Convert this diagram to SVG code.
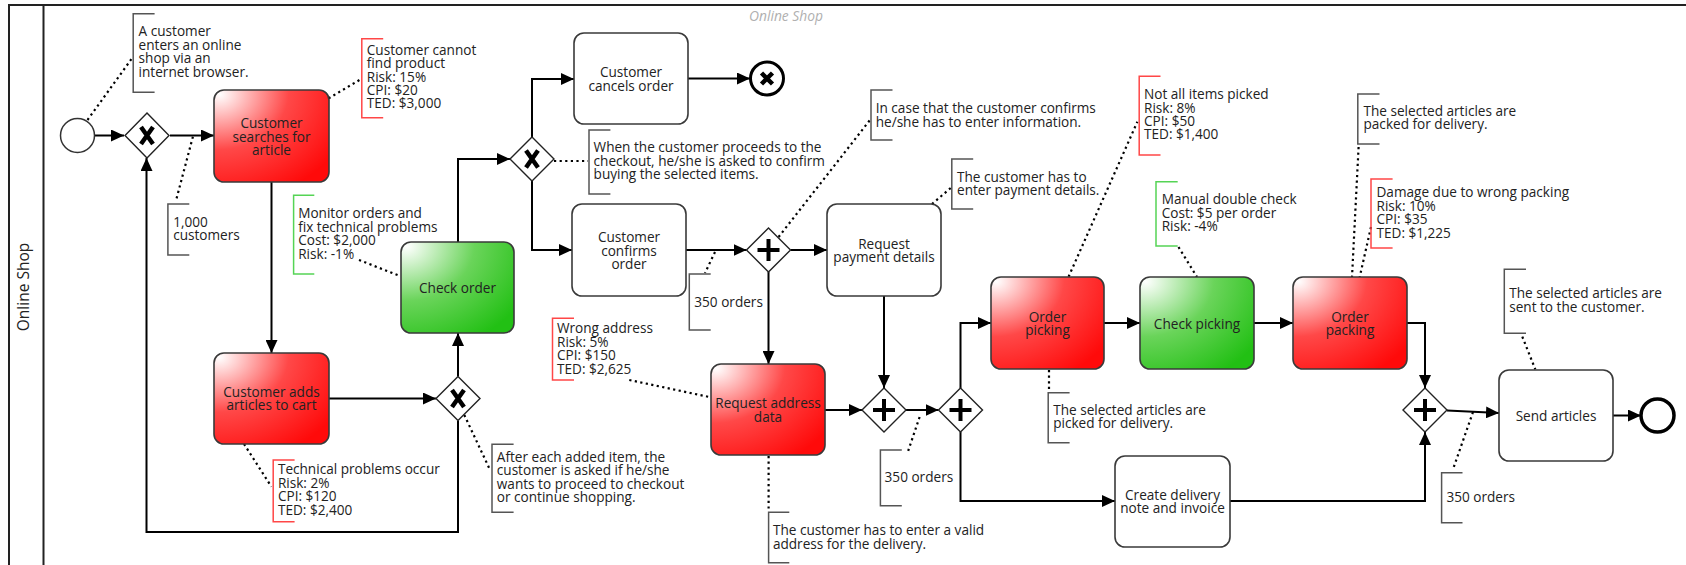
<svg xmlns="http://www.w3.org/2000/svg" width="1686" height="565" viewBox="0 0 1686 565">
<defs>
<style>
.t{font-family:'Open Sans','DejaVu Sans',sans-serif;font-size:13.6px;fill:#222}
.c{text-anchor:middle}
.flow{fill:none;stroke:#000;stroke-width:2}
.as{fill:none;stroke:#000;stroke-width:2.2;stroke-dasharray:2.2 3.4}
.br{fill:none;stroke:#555;stroke-width:1.5}
.red{stroke:#ff4747}
.grn{stroke:#55d455}
.task{stroke:#3a3a3a;stroke-width:1.6}
.gw{fill:#fff;stroke:#222;stroke-width:1.4}
.mk{stroke:#000;stroke-width:4.5;fill:none}
</style>
<radialGradient id="gR" cx="0" cy="0" r="1.25" fx="0.05" fy="0.05">
<stop offset="0" stop-color="#ffffff"/>
<stop offset="0.5" stop-color="#ff4848"/>
<stop offset="1" stop-color="#ff0a0a"/>
</radialGradient>
<radialGradient id="gG" cx="0" cy="0" r="1.25" fx="0.05" fy="0.05">
<stop offset="0" stop-color="#ffffff"/>
<stop offset="0.5" stop-color="#6ad45a"/>
<stop offset="1" stop-color="#22c014"/>
</radialGradient>
<marker id="ar" markerUnits="userSpaceOnUse" markerWidth="14" markerHeight="12" refX="13" refY="6" orient="auto">
<path d="M0,0 L13,6 L0,12 Z" fill="#000"/>
</marker>
</defs>
<rect width="1686" height="565" fill="#fff"/>

<g id="pool">
<path d="M1686,5 H9 V565 M43.5,5 V565" fill="none" stroke="#222" stroke-width="2"/>
<text class="t" transform="translate(29,287) rotate(-90)" text-anchor="middle" style="font-size:15.5px">Online Shop</text>
<text class="t c" x="786" y="21" style="font-style:italic;fill:#b0b0b0;font-size:13.8px">Online Shop</text>
</g>

<g id="connectors">
<path class="flow" marker-end="url(#ar)" d="M95,135.5 H124"/>
<path class="flow" marker-end="url(#ar)" d="M170,135.5 H214"/>
<path class="flow" marker-end="url(#ar)" d="M271.5,182 V353"/>
<path class="flow" marker-end="url(#ar)" d="M329,398.5 H436"/>
<path class="flow" marker-end="url(#ar)" d="M458,376.5 V333"/>
<path class="flow" marker-end="url(#ar)" d="M458,420.5 V532 H146.5 V158"/>
<path class="flow" marker-end="url(#ar)" d="M458,242 V159 H510"/>
<path class="flow" marker-end="url(#ar)" d="M532,137 V79 H574"/>
<path class="flow" marker-end="url(#ar)" d="M532,181 V250 H572"/>
<path class="flow" marker-end="url(#ar)" d="M688,78.5 H750"/>
<path class="flow" marker-end="url(#ar)" d="M686,250 H746.5"/>
<path class="flow" marker-end="url(#ar)" d="M790.5,250 H827"/>
<path class="flow" marker-end="url(#ar)" d="M768.5,272 V364"/>
<path class="flow" marker-end="url(#ar)" d="M884,296 V388"/>
<path class="flow" marker-end="url(#ar)" d="M825,410 H862"/>
<path class="flow" marker-end="url(#ar)" d="M906,410 H938.5"/>
<path class="flow" marker-end="url(#ar)" d="M960.5,388 V323 H991"/>
<path class="flow" marker-end="url(#ar)" d="M960.5,432 V501 H1115"/>
<path class="flow" marker-end="url(#ar)" d="M1104,323 H1140"/>
<path class="flow" marker-end="url(#ar)" d="M1254,323 H1293"/>
<path class="flow" marker-end="url(#ar)" d="M1407,323 H1425 V388"/>
<path class="flow" marker-end="url(#ar)" d="M1230,501 H1425 V432"/>
<path class="flow" marker-end="url(#ar)" d="M1447,410.5 L1499,413"/>
<path class="flow" marker-end="url(#ar)" d="M1613,415.5 H1641"/>

<path class="as" d="M87.5,120 L132,58.3"/>
<path class="as" d="M328.6,98.3 L360.7,79.3"/>
<path class="as" d="M192.9,136.7 L175.7,201.7"/>
<path class="as" d="M359,260 L400,276"/>
<path class="as" d="M554,161 L588,161"/>
<path class="as" d="M778.6,237 L870,120"/>
<path class="as" d="M715,252 L705,273"/>
<path class="as" d="M932,204 L950.7,188"/>
<path class="as" d="M1068.6,276.7 L1137.4,121.7"/>
<path class="as" d="M1178.5,247 L1197,277"/>
<path class="as" d="M1358.6,147 L1352,277"/>
<path class="as" d="M1371,227 L1359.7,277"/>
<path class="as" d="M629.3,380 L710.7,397.3"/>
<path class="as" d="M244,444 L271.4,486.7"/>
<path class="as" d="M464.3,415 L489.3,468.3"/>
<path class="as" d="M919.6,417 L907.9,451.7"/>
<path class="as" d="M768.6,456 L768.6,510"/>
<path class="as" d="M1049,370 L1049,392"/>
<path class="as" d="M1522.3,336.7 L1535.3,369.3"/>
<path class="as" d="M1473,412 L1453,469.3"/>
</g>

<g id="start">
<circle cx="77.5" cy="135.5" r="17" fill="#fff" stroke="#333" stroke-width="1.5"/>
</g>
<g id="gw1">
<path class="gw" d="M147,113 L169,135.5 L147,158 L125,135.5 Z"/>
<path class="mk" d="M141,127 L153,144 M153,127 L141,144"/>
</g>
<g id="task-search">
<rect x="214" y="90" width="115" height="92" rx="10" fill="url(#gR)" class="task"/>
<text class="t c" x="271.5"><tspan x="271.5" y="128.3">Customer</tspan><tspan x="271.5" y="141.7">searches for</tspan><tspan x="271.5" y="155">article</tspan></text>
</g>
<g id="task-adds">
<rect x="214" y="353" width="115" height="91" rx="10" fill="url(#gR)" class="task"/>
<text class="t c"><tspan x="271.5" y="396.8">Customer adds</tspan><tspan x="271.5" y="410.2">articles to cart</tspan></text>
</g>
<g id="gw3">
<path class="gw" d="M458,376.5 L480,398.5 L458,420.5 L436,398.5 Z"/>
<path class="mk" d="M452,390 L464,407 M464,390 L452,407"/>
</g>
<g id="task-check-order">
<rect x="401" y="242" width="113" height="91" rx="10" fill="url(#gG)" class="task"/>
<text class="t c" x="457.5" y="292.7">Check order</text>
</g>
<g id="gw2">
<path class="gw" d="M532,137 L554,159 L532,181 L510,159 Z"/>
<path class="mk" d="M526,150.5 L538,167.5 M538,150.5 L526,167.5"/>
</g>
<g id="task-cancels">
<rect x="574" y="33" width="114" height="91" rx="10" fill="#fff" class="task"/>
<text class="t c"><tspan x="631" y="77.3">Customer</tspan><tspan x="631" y="90.7">cancels order</tspan></text>
</g>
<g id="end-cancel">
<circle cx="767" cy="78.5" r="16.5" fill="#fff" stroke="#000" stroke-width="3"/>
<path d="M761.5,73 L772.5,84 M772.5,73 L761.5,84" stroke="#000" stroke-width="4.5" fill="none"/>
</g>
<g id="task-confirms">
<rect x="572" y="204" width="114" height="92" rx="10" fill="#fff" class="task"/>
<text class="t c"><tspan x="629" y="242.3">Customer</tspan><tspan x="629" y="255.7">confirms</tspan><tspan x="629" y="269">order</tspan></text>
</g>
<g id="gw4">
<path class="gw" d="M768.5,228 L790.5,250 L768.5,272 L746.5,250 Z"/>
<path class="mk" d="M768.5,239 V261 M757.5,250 H779.5" style="stroke-width:4"/>
</g>
<g id="task-payment">
<rect x="827" y="204" width="114" height="92" rx="10" fill="#fff" class="task"/>
<text class="t c"><tspan x="884" y="249">Request</tspan><tspan x="884" y="262.3">payment details</tspan></text>
</g>
<g id="task-address">
<rect x="711" y="364" width="114" height="91" rx="10" fill="url(#gR)" class="task"/>
<text class="t c"><tspan x="768" y="408.3">Request address</tspan><tspan x="768" y="421.7">data</tspan></text>
</g>
<g id="gw5">
<path class="gw" d="M884,388 L906,410 L884,432 L862,410 Z"/>
<path class="mk" d="M884,399 V421 M873,410 H895" style="stroke-width:4"/>
</g>
<g id="gw6">
<path class="gw" d="M960.5,388 L982.5,410 L960.5,432 L938.5,410 Z"/>
<path class="mk" d="M960.5,399 V421 M949.5,410 H971.5" style="stroke-width:4"/>
</g>
<g id="task-picking">
<rect x="991" y="277" width="113" height="92" rx="10" fill="url(#gR)" class="task"/>
<text class="t c"><tspan x="1047.5" y="321.7">Order</tspan><tspan x="1047.5" y="335">picking</tspan></text>
</g>
<g id="task-check-picking">
<rect x="1140" y="277" width="114" height="92" rx="10" fill="url(#gG)" class="task"/>
<text class="t c" x="1197" y="328.5">Check picking</text>
</g>
<g id="task-packing">
<rect x="1293" y="277" width="114" height="92" rx="10" fill="url(#gR)" class="task"/>
<text class="t c"><tspan x="1350" y="321.7">Order</tspan><tspan x="1350" y="335">packing</tspan></text>
</g>
<g id="task-delivery-note">
<rect x="1115" y="456" width="115" height="91" rx="10" fill="#fff" class="task"/>
<text class="t c"><tspan x="1172.5" y="500">Create delivery</tspan><tspan x="1172.5" y="513.3">note and invoice</tspan></text>
</g>
<g id="gw7">
<path class="gw" d="M1425,388 L1447,410 L1425,432 L1403,410 Z"/>
<path class="mk" d="M1425,399 V421 M1414,410 H1436" style="stroke-width:4"/>
</g>
<g id="task-send">
<rect x="1499" y="370" width="114" height="91" rx="10" fill="#fff" class="task"/>
<text class="t c" x="1556" y="420.7">Send articles</text>
</g>
<g id="end">
<circle cx="1657.5" cy="415.5" r="16.5" fill="#fff" stroke="#000" stroke-width="3.5"/>
</g>

<g id="ann-start">
<path class="br" d="M154.6,13.7 H133.2 V92.3 H154.6"/>
<text class="t"><tspan x="138.6" y="36">A customer</tspan><tspan x="138.6" y="49.6">enters an online</tspan><tspan x="138.6" y="63.2">shop via an</tspan><tspan x="138.6" y="76.8">internet browser.</tspan></text>
</g>
<g id="ann-cannot-find">
<path class="br red" d="M383.2,38.7 H361.8 V117.7 H383.2"/>
<text class="t"><tspan x="366.8" y="54.7">Customer cannot</tspan><tspan x="366.8" y="68.1">find product</tspan><tspan x="366.8" y="81.5">Risk: 15%</tspan><tspan x="366.8" y="94.9">CPI: $20</tspan><tspan x="366.8" y="108.3">TED: $3,000</tspan></text>
</g>
<g id="ann-1000">
<path class="br" d="M189.3,204 H167.9 V255 H189.3"/>
<text class="t"><tspan x="173.2" y="226.7">1,000</tspan><tspan x="173.2" y="240.3">customers</tspan></text>
</g>
<g id="ann-monitor">
<path class="br grn" d="M314.3,195.3 H293.6 V274 H314.3"/>
<text class="t"><tspan x="298.2" y="218">Monitor orders and</tspan><tspan x="298.2" y="231.5">fix technical problems</tspan><tspan x="298.2" y="245">Cost: $2,000</tspan><tspan x="298.2" y="258.5">Risk: -1%</tspan></text>
</g>
<g id="ann-checkout">
<path class="br" d="M610.4,130 H589 V194 H610.4"/>
<text class="t"><tspan x="593.6" y="152.3">When the customer proceeds to the</tspan><tspan x="593.6" y="165.7">checkout, he/she is asked to confirm</tspan><tspan x="593.6" y="179">buying the selected items.</tspan></text>
</g>
<g id="ann-in-case">
<path class="br" d="M892.5,90 H871 V140 H892.5"/>
<text class="t"><tspan x="875.7" y="113.3">In case that the customer confirms</tspan><tspan x="875.7" y="126.7">he/she has to enter information.</tspan></text>
</g>
<g id="ann-350-a">
<path class="br" d="M710.7,274 H689.3 V330 H710.7"/>
<text class="t" x="694.3" y="306.7">350 orders</text>
</g>
<g id="ann-payment">
<path class="br" d="M973.2,159 H951.8 V209 H973.2"/>
<text class="t"><tspan x="957" y="181.7">The customer has to</tspan><tspan x="957" y="195">enter payment details.</tspan></text>
</g>
<g id="ann-not-all">
<path class="br red" d="M1160.5,76.3 H1139.2 V155 H1160.5"/>
<text class="t"><tspan x="1144" y="99">Not all items picked</tspan><tspan x="1144" y="112.5">Risk: 8%</tspan><tspan x="1144" y="126">CPI: $50</tspan><tspan x="1144" y="139.3">TED: $1,400</tspan></text>
</g>
<g id="ann-double-check">
<path class="br grn" d="M1177.7,181.7 H1156 V246 H1177.7"/>
<text class="t"><tspan x="1161.7" y="204">Manual double check</tspan><tspan x="1161.7" y="217.5">Cost: $5 per order</tspan><tspan x="1161.7" y="231">Risk: -4%</tspan></text>
</g>
<g id="ann-packed">
<path class="br" d="M1379.5,94 H1357.8 V144 H1379.5"/>
<text class="t"><tspan x="1363.5" y="115.7">The selected articles are</tspan><tspan x="1363.5" y="129">packed for delivery.</tspan></text>
</g>
<g id="ann-damage">
<path class="br red" d="M1392.6,179 H1371 V248 H1392.6"/>
<text class="t"><tspan x="1376.5" y="197.3">Damage due to wrong packing</tspan><tspan x="1376.5" y="210.7">Risk: 10%</tspan><tspan x="1376.5" y="224">CPI: $35</tspan><tspan x="1376.5" y="237.5">TED: $1,225</tspan></text>
</g>
<g id="ann-wrong-address">
<path class="br red" d="M574,318.3 H552.5 V380 H574"/>
<text class="t"><tspan x="557" y="333.3">Wrong address</tspan><tspan x="557" y="346.7">Risk: 5%</tspan><tspan x="557" y="360">CPI: $150</tspan><tspan x="557" y="373.5">TED: $2,625</tspan></text>
</g>
<g id="ann-technical">
<path class="br red" d="M294.6,460 H273.2 V521.7 H294.6"/>
<text class="t"><tspan x="277.9" y="474.3">Technical problems occur</tspan><tspan x="277.9" y="487.7">Risk: 2%</tspan><tspan x="277.9" y="501">CPI: $120</tspan><tspan x="277.9" y="514.5">TED: $2,400</tspan></text>
</g>
<g id="ann-after-each">
<path class="br" d="M513.6,444.3 H492 V512.3 H513.6"/>
<text class="t"><tspan x="496.8" y="461.7">After each added item, the</tspan><tspan x="496.8" y="475">customer is asked if he/she</tspan><tspan x="496.8" y="488.5">wants to proceed to checkout</tspan><tspan x="496.8" y="502">or continue shopping.</tspan></text>
</g>
<g id="ann-350-b">
<path class="br" d="M901.8,450 H880.4 V505.7 H901.8"/>
<text class="t" x="884.6" y="482.3">350 orders</text>
</g>
<g id="ann-valid-address">
<path class="br" d="M789.3,512.3 H768.6 V562.7 H789.3"/>
<text class="t"><tspan x="772.9" y="535">The customer has to enter a valid</tspan><tspan x="772.9" y="548.5">address for the delivery.</tspan></text>
</g>
<g id="ann-picked">
<path class="br" d="M1069.6,392.7 H1048.2 V442.7 H1069.6"/>
<text class="t"><tspan x="1053.2" y="414.7">The selected articles are</tspan><tspan x="1053.2" y="428">picked for delivery.</tspan></text>
</g>
<g id="ann-sent">
<path class="br" d="M1526,269.3 H1504.3 V333.3 H1526"/>
<text class="t"><tspan x="1509.2" y="298.3">The selected articles are</tspan><tspan x="1509.2" y="311.7">sent to the customer.</tspan></text>
</g>
<g id="ann-350-c">
<path class="br" d="M1462.5,472.7 H1441.6 V522.7 H1462.5"/>
<text class="t" x="1446.4" y="502.3">350 orders</text>
</g>
</svg>
